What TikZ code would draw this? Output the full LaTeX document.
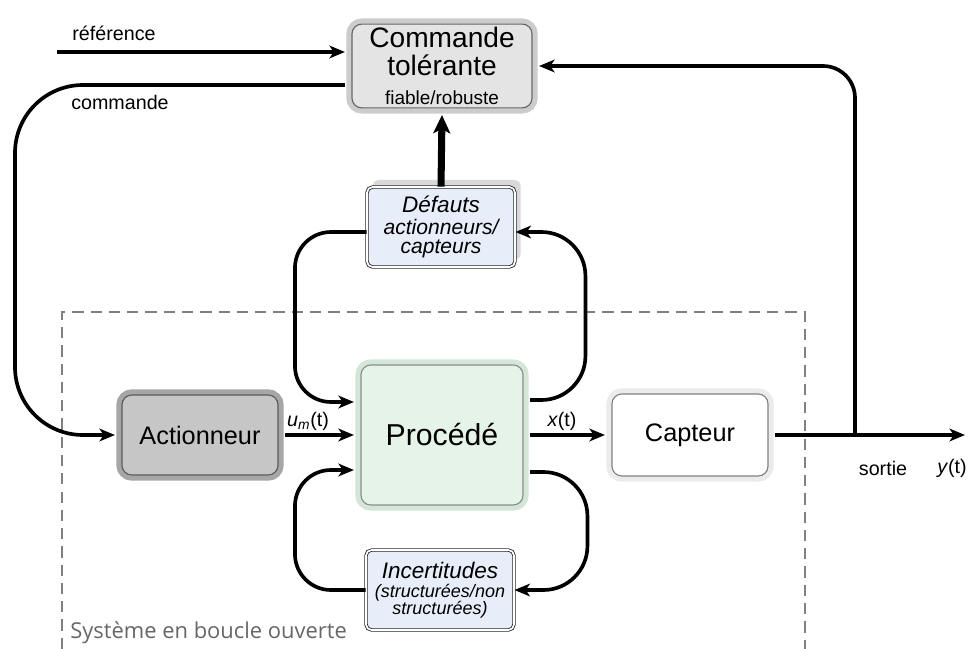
\documentclass[tikz,border=0pt]{standalone}
\usepackage{fontspec}
\setmainfont{Liberation Sans}
\newfontfamily\cadrefont{Open Sans}
\usepackage{tikz,xcolor}
\usetikzlibrary{calc}
\usetikzlibrary{shadows}
\usetikzlibrary{arrows.meta}
\definecolor{grisclair}{HTML}{E4E4E4}
\definecolor{grisfonce}{HTML}{C6C6C6}
\definecolor{vertclair}{HTML}{E5F3E8}
\definecolor{vertanneau}{HTML}{D3E6D7}
\definecolor{bleuclair}{HTML}{E7EEF9}
\tikzstyle{bloc} = [rectangle, rounded corners=7pt, line width=0.8pt, align=center, inner sep=2pt, outer sep=5pt]
\tikzstyle{blocclair} = [bloc, draw=black!60, fill=grisclair, drop shadow={opacity=0.25, shadow yshift=-3pt}, preaction={draw=black!20, line width=8pt}, minimum width=4.5cm, minimum height=2.05cm, font=\fontsize{20}{22}\selectfont]
\tikzstyle{blocfonce} = [bloc, draw=black!65, fill=grisfonce, drop shadow={opacity=0.25, shadow yshift=-3pt}, preaction={draw=black!35, line width=8pt}, minimum width=3.9cm, minimum height=2cm, font=\fontsize{18}{20}\selectfont]
\tikzstyle{blocvert} = [bloc, draw=black!45, fill=vertclair, drop shadow={opacity=0.2, shadow yshift=-3pt}, preaction={draw=vertanneau, line width=8pt}, minimum width=4.05cm, minimum height=3.5cm, font=\fontsize{21.5}{24}\selectfont]
\tikzstyle{blocblanc} = [bloc, draw=black!50, fill=white, drop shadow={opacity=0.2, shadow yshift=-3pt}, preaction={draw=black!8, line width=8pt}, minimum width=3.9cm, minimum height=2.05cm, font=\fontsize{18}{20}\selectfont]
\tikzstyle{defaut} = [rectangle, rounded corners=4pt, draw=black!85, double=white, double distance=1.2pt, line width=0.6pt, fill=bleuclair, align=center, inner sep=1pt, minimum width=3.7cm, minimum height=2cm]
\tikzstyle{fleche} = [line width=2.6pt, -{Stealth[length=11pt, width=9pt, inset=3pt]}]
\tikzstyle{flecheepaisse} = [line width=5pt, -{Stealth[length=13pt, width=12pt, inset=3pt]}]
\tikzstyle{etiq} = [inner sep=1pt, font=\fontsize{14}{16}\selectfont]
\tikzstyle{cadre} = [draw=black!50, line width=1.5pt, dash pattern=on 8pt off 5pt]

\begin{document}
\begin{tikzpicture}[x=0.025cm, y=-0.025cm]
\useasboundingbox (0,0) rectangle (971,649);

% systeme en boucle ouverte
\draw[cadre] (62,649) |- (805,312) -- (805,649);
\node[anchor=base west, inner sep=0pt, text=black!60, font=\cadrefont\fontsize{15.6}{17}\selectfont] (titre) at (70,638) {Système en boucle ouverte};

% blocs
\node[blocclair] (cmd) at (442,66) {Commande\\[-2pt] tolérante\\[-1pt] \fontsize{13.5}{14}\selectfont fiable/robuste};
\node[blocfonce] (act) at (200,435) {Actionneur};
\node[blocvert] (proc) at (442,435) {Procédé};
\node[blocblanc] (cap) at (690,435) {Capteur};
\node[defaut, font=\itshape\fontsize{15}{15}\selectfont, drop shadow={opacity=0.3, shadow xshift=4pt, shadow yshift=5pt}] (def) at (441,227) {\fontsize{16}{16}\selectfont Défauts\\[1pt] actionneurs/\\[-1.5pt] capteurs};
\node[defaut, font=\itshape\fontsize{12.8}{13}\selectfont] (inc) at (440,590) {\fontsize{16}{16}\selectfont Incertitudes\\[1pt] (structurées/non\\[-1pt] structurées)};

% extremites libres
\coordinate (ref) at (57,52);
\coordinate (sortie) at (965,435);
\coordinate (branche) at (855,435);

% liaisons
\draw[fleche] (ref) -- (ref -| cmd.west);
\draw[fleche, rounded corners=1.7cm] ($(cmd.west)+(0,19)$) -| (15,435) -- (act.west);
\draw[fleche] (act.east) -- (proc.west);
\draw[fleche] (proc.east) -- (cap.west);
\draw[fleche] (cap.east) -- (sortie);
\draw[fleche, rounded corners=0.8cm] (branche) |- (cmd.east);
\draw[flecheepaisse] (def.north) -- (cmd.south);

% boucles defauts / incertitudes
\draw[fleche, rounded corners=0.9cm] ($(def.west)+(0,5)$) -| ($(proc.west)+(-59,-33)$) -- ($(proc.west)+(0,-33)$);
\draw[fleche, rounded corners=1.1cm] ($(proc.east)+(0,-35)$) -| ($(def.east)+(70,5)$) -- ($(def.east)+(0,5)$);
\draw[fleche, rounded corners=0.9cm] (inc.west) -| ($(proc.west)+(-59,35)$) -- ($(proc.west)+(0,35)$);
\draw[fleche, rounded corners=1.1cm] ($(proc.east)+(0,37)$) -| ($(inc.east)+(73,0)$) -- (inc.east);

% etiquettes
\node[etiq] (lref) at (114,33) {référence};
\node[etiq] (lcmd) at (120,102) {commande};
\node[etiq] (lum) at (308,421) {\textit{u}\textsubscript{\textit{m}}(t)};
\node[etiq] (lx) at (562,421) {\textit{x}(t)};
\node[etiq] (lsortie) at (883,468) {sortie};
\node[etiq] (ly) at (952,468) {\textit{y}(t)};
\end{tikzpicture}
\end{document}
